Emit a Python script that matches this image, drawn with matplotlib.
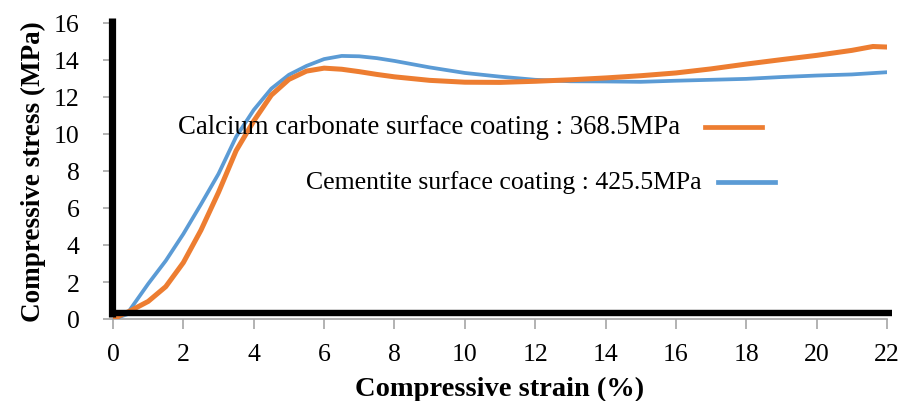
import matplotlib
matplotlib.use("Agg")
import matplotlib.pyplot as plt
from matplotlib.lines import Line2D

# Strain (%) / stress (MPa) points
carb_strain = [0, 0.5, 1.0, 1.5, 2.0, 2.5, 3.0, 3.5, 4.0, 4.5, 5.0, 5.5, 6.0, 6.5,
               7.0, 7.5, 8.0, 9.0, 10.0, 11.0, 12.0, 13.0, 14.0, 15.0, 16.0, 17.0,
               18.0, 19.0, 20.0, 21.0, 21.6, 22.0]
carb_stress = [0, 0.45, 0.95, 1.75, 3.05, 4.8, 6.85, 9.1, 10.7, 12.1, 12.95, 13.4,
               13.56, 13.5, 13.37, 13.22, 13.09, 12.9, 12.8, 12.79, 12.85, 12.93,
               13.03, 13.15, 13.3, 13.52, 13.78, 14.02, 14.25, 14.52, 14.73, 14.7]

cem_strain = [0, 0.4, 0.5, 1.0, 1.5, 2.0, 2.5, 3.0, 3.5, 4.0, 4.5, 5.0, 5.5, 6.0,
              6.5, 7.0, 7.5, 8.0, 9.0, 10.0, 11.0, 12.0, 13.0, 14.0, 15.0, 16.0,
              17.0, 18.0, 19.0, 20.0, 21.0, 22.0]
cem_stress = [0, 0.25, 0.55, 1.9, 3.15, 4.6, 6.2, 7.85, 9.85, 11.3, 12.45, 13.2,
              13.68, 14.05, 14.22, 14.2, 14.1, 13.95, 13.6, 13.3, 13.1, 12.93,
              12.85, 12.84, 12.82, 12.88, 12.93, 12.98, 13.08, 13.16, 13.22, 13.34]

carb_label = "Calcium carbonate surface coating : 368.5MPa"
cem_label = "Cementite surface coating : 425.5MPa"
x_ticks = list(range(0, 23, 2))
y_ticks = list(range(0, 17, 2))

orange = "#ED7D31"
blue = "#5B9BD5"
serif = "Liberation Serif"

fig = plt.figure(figsize=(9.02, 4.02), dpi=100)
ax = fig.add_axes([113 / 902, 1 - 320 / 402, 774 / 902, 296 / 402])

ax.plot(cem_strain, cem_stress, color=blue, lw=2.7, zorder=3)
ax.plot(carb_strain, carb_stress, color=orange, lw=3.6, zorder=3)

ax.set_xlim(0, 22)
ax.set_ylim(0, 16)
ax.set_xticks(x_ticks)
ax.set_yticks(y_ticks)

for s in ["top", "right", "left"]:
    ax.spines[s].set_visible(False)
ax.spines["bottom"].set_color("#a6a6a6")
ax.spines["bottom"].set_linewidth(1.2)
ax.tick_params(axis="both", color="#a6a6a6", width=1.2, length=7,
               labelsize=18.5, labelcolor="black")
ax.tick_params(axis="y", pad=17)
ax.tick_params(axis="x", pad=10)
for lab in ax.get_xticklabels() + ax.get_yticklabels():
    lab.set_family(serif)

# thick black frame lines, slightly offset like the original
ax.plot([-0.03, -0.03], [0.1, 16.25], color="black", lw=5.2, clip_on=False,
        solid_capstyle="butt", zorder=5)
ax.plot([-0.1, 22.15], [0.3, 0.3], color="black", lw=4.6, clip_on=False,
        solid_capstyle="butt", zorder=5)

ax.set_xlabel("Compressive strain (%)", family=serif, fontsize=20.5,
              fontweight="bold", labelpad=8)
ax.set_ylabel("Compressive stress (MPa)", family=serif, fontsize=19.5,
              fontweight="bold", labelpad=6)

# legend drawn as text plus short sample lines
t = ax.transAxes
ax.text((178 - 113) / 774, (320 - 128) / 296, carb_label, transform=t,
        family=serif, fontsize=19.3, va="center", ha="left")
ax.add_line(Line2D([(705 - 113) / 774, (762 - 113) / 774],
                   [(320 - 128) / 296] * 2, transform=t, color=orange, lw=3.4))
ax.text((306 - 113) / 774, (320 - 183) / 296, cem_label, transform=t,
        family=serif, fontsize=18.5, va="center", ha="left")
ax.add_line(Line2D([(718 - 113) / 774, (775 - 113) / 774],
                   [(320 - 183) / 296] * 2, transform=t, color=blue, lw=3.4))

fig.savefig("out.png", dpi=100)
